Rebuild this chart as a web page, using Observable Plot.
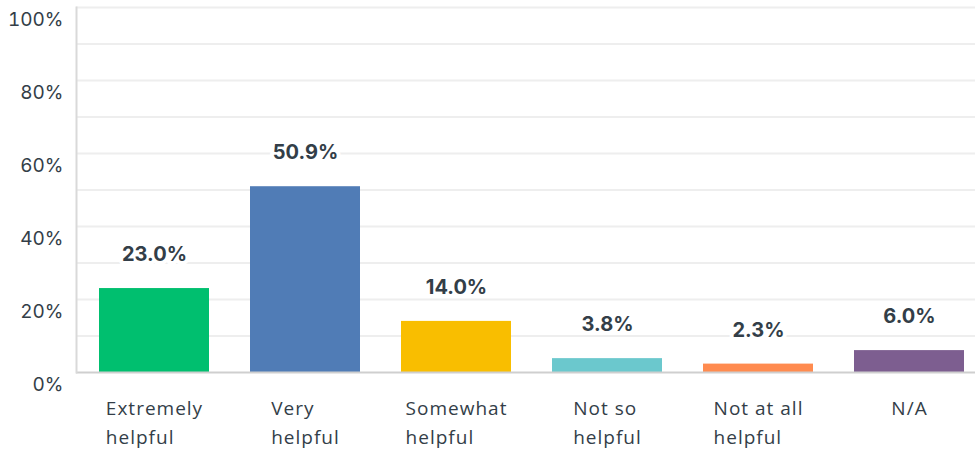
<!DOCTYPE html>
<html>
<head>
<meta charset="utf-8">
<script src="https://cdn.jsdelivr.net/npm/d3@7"></script>
<script src="https://cdn.jsdelivr.net/npm/@observablehq/plot@0.6"></script>
<style>
  html, body { margin: 0; padding: 0; background: #fff; }
</style>
</head>
<body>
<div id="chart"></div>
<script>
const categories = ["Extremely\nhelpful", "Very\nhelpful", "Somewhat\nhelpful", "Not so\nhelpful", "Not at all\nhelpful", "N/A"];
const values = [23.0, 50.9, 14.0, 3.8, 2.3, 6.0];
const colors = ["#00bf6f", "#507cb6", "#f9be00", "#6bc8cd", "#ff8b4f", "#7d5e90"];
const yTicks = [0, 20, 40, 60, 80, 100];
const gridLines = [10, 20, 30, 40, 50, 60, 70, 80, 90, 100];

const data = categories.map((c, i) => ({cat: c, value: values[i], color: colors[i]}));
const textColor = "#333e48";

const chart = Plot.plot({
  width: 975,
  height: 455,
  marginLeft: 76,
  marginRight: 0,
  marginTop: 7,
  marginBottom: 83,
  style: {fontFamily: "Inter, 'Noto Sans', sans-serif", background: "#fff", color: textColor},
  x: {type: "band", domain: categories, range: [76, 987], paddingInner: 0.2715, paddingOuter: 0.152, align: 0.5, label: null},
  y: {domain: [0, 100], label: null},
  color: {type: "identity"},
  marks: [
    Plot.ruleY(gridLines, {stroke: "#eeeeee", strokeWidth: 2}),
    Plot.barY(data, {x: "cat", y: "value", fill: "color"}),
    Plot.text(data, {
      x: "cat", y: "value",
      text: d => d.value.toFixed(1) + "%",
      dy: -34, fontSize: 20, fontWeight: 700, fill: textColor,
      stroke: "white", strokeWidth: 8
    }),
    Plot.ruleY([0], {stroke: "#cfcfcf", strokeWidth: 2}),
    Plot.frame({anchor: "left", stroke: "#d9d9d9", strokeWidth: 2}),
    Plot.axisY({ticks: yTicks, tickFormat: d => d + "%", tickSize: 0, tickPadding: 13, fontSize: 19, dy: 12, fill: textColor, label: null}),
    Plot.axisX({tickSize: 0, tickPadding: 23, fontSize: 19, lineHeight: 1.48, fill: textColor, label: null, fontFamily: "'Open Sans', sans-serif"})
  ]
});

document.getElementById("chart").append(chart);

// left-align lines within each centered category label block
d3.select(chart).selectAll('g[aria-label="x-axis tick label"] text').each(function() {
  this.style.letterSpacing = "1px";
  const spans = d3.select(this).selectAll("tspan");
  const nodes = spans.nodes();
  let w = 0;
  if (nodes.length) {
    nodes.forEach(n => { w = Math.max(w, n.getComputedTextLength()); });
    d3.select(this).attr("text-anchor", "start");
    spans.attr("x", -w / 2);
  } else {
    w = this.getComputedTextLength();
    d3.select(this).attr("text-anchor", "start").attr("x", -w / 2);
  }
});
</script>
</body>
</html>
